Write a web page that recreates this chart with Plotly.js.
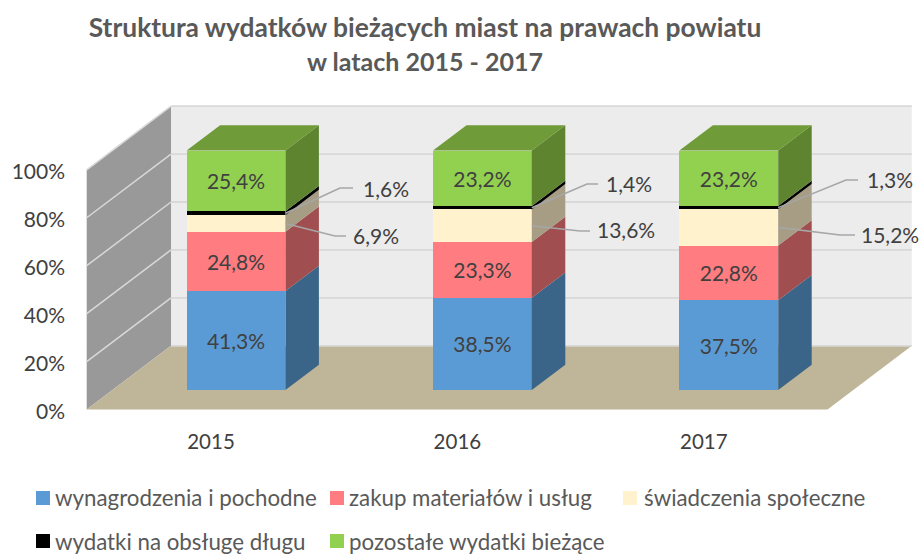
<!DOCTYPE html>
<html><head><meta charset="utf-8">
<script src="https://cdn.plot.ly/plotly-3.0.1.min.js"></script>
<style>html,body{margin:0;padding:0;background:#fff}</style></head>
<body><div id="chart" style="width:920px;height:554px"></div>
<script>
const years = ['2015','2016','2017'];
const seriesNames = ['wynagrodzenia i pochodne','zakup materiałów i usług','świadczenia społeczne','wydatki na obsługę długu','pozostałe wydatki bieżące'];
const wynagrodzenia = [41.3,38.5,37.5];
const zakup = [24.8,23.3,22.8];
const swiadczenia = [6.9,13.6,15.2];
const dlug = [1.6,1.4,1.3];
const pozostale = [25.4,23.2,23.2];
const valueTicks = [0,20,40,60,80,100];

const frontColors = ['#5B9BD5','#FF7C80','#FFF2CC','#000000','#92D050'];
const sideColors = ['#3A6488','#A04E50','#A69D84','#000000','#5E8430'];
const topColor = '#6F9B38';
const allSeries = [wynagrodzenia,zakup,swiadczenia,dlug,pozostale];
const FONT = 'Lato, Carlito, Calibri, sans-serif';

// pixel scale of the plot (full-window plot area)
const W=920,H=554, X0=236, XU=246.4, Y0=390, YU=2.395;
const xOf = p => (p-X0)/XU;
const vOf = p => (Y0-p)/YU;
const barW = 0.401;
const depthX = 33.5/XU, depthV = 25.3/YU;        // bar depth
const wallDX = 84.3/XU, wallDV = 63.7/YU;        // room depth
const floorL = xOf(86.7), floorR = xOf(827.5), floorV = vOf(409.5);
const wallH = 239.7/YU;
const Y2_ZERO = 411.3, Y2_UNIT = 239.5/100;

const x = years.map((_,i)=>i);
const traces = [];
const bases = allSeries.map((s,k)=>x.map(i=>allSeries.slice(0,k).reduce((a,b)=>a+b[i],0)));
const fmt = v => v.toFixed(1).replace('.',',')+'%';
const isOutside = k => k===2 || k===3;

allSeries.forEach((s,k)=>{
  const showInside = !(isOutside(k));
  traces.push({type:'bar',x:x,y:s,width:barW,name:seriesNames[k],xaxis:'x',yaxis:'y',
    marker:{color:frontColors[k],line:{width:0}},showlegend:false,hoverinfo:'skip',
    text:showInside?s.map(fmt):undefined,textposition:showInside?'inside':'none',insidetextanchor:'middle',
    textangle:0,constraintext:'none',insidetextfont:{family:FONT,size:21,color:'#404040'}});
  const sx=[],sy=[];
  x.forEach(i=>{
    const r=i+barW/2,b=bases[k][i],t=b+s[i];
    sx.push(r,r+depthX,r+depthX,r,r,null);
    sy.push(b,b+depthV,t+depthV,t,b,null);
  });
  traces.push({type:'scatter',mode:'lines',x:sx,y:sy,fill:'toself',fillcolor:sideColors[k],line:{width:0,color:sideColors[k]},showlegend:false,hoverinfo:'skip'});
});
{
  const tx=[],ty=[];
  x.forEach(i=>{
    const l=i-barW/2,r=i+barW/2,t=bases[4][i]+pozostale[i];
    tx.push(l,r,r+depthX,l+depthX,l,null);
    ty.push(t,t,t+depthV,t+depthV,t,null);
  });
  traces.push({type:'scatter',mode:'lines',x:tx,y:ty,fill:'toself',fillcolor:topColor,line:{width:0,color:topColor},showlegend:false,hoverinfo:'skip'});
}
traces.push({type:'scatter',mode:'markers',x:[0],y:[0],yaxis:'y2',marker:{opacity:0},showlegend:false,hoverinfo:'skip'});

const leaders = [
  [3,0,340,188,353,386,188.5],[2,0,335,236,346,376,235.5],
  [3,1,587,184,598,629,183.5],[2,1,580,231,590,626,229.5],
  [3,2,846,180,858,890,179.5],[2,2,840,235,855,890,234.5]
];
const annotations = [];
leaders.forEach(([k,i,ex,ey,endx,lx,ly])=>{
  const startX=i+barW/2, startV=bases[k][i]+allSeries[k][i]/2;
  traces.push({type:'scatter',mode:'lines',x:[startX,xOf(ex),xOf(endx)],y:[startV,vOf(ey),vOf(ey)],
    line:{color:'#A6A6A6',width:1.6},showlegend:false,hoverinfo:'skip'});
  annotations.push({xref:'x',yref:'y',x:xOf(lx),y:vOf(ly),text:fmt(allSeries[k][i]),showarrow:false,
    xanchor:'center',yanchor:'middle',font:{family:FONT,size:21,color:'#404040'}});
});

const poly = pts => 'M'+pts.map(p=>p[0]+','+p[1]).join('L')+'Z';
const dataShape = (pts,fill)=>({type:'path',xref:'x',yref:'y',layer:'below',path:poly(pts),fillcolor:fill,line:{width:0}});
const shapes = [
  dataShape([[floorL+wallDX,floorV+wallDV],[floorR+wallDX,floorV+wallDV],[floorR+wallDX,floorV+wallDV+wallH],[floorL+wallDX,floorV+wallDV+wallH]],'#ECECEC'),
  dataShape([[floorL,floorV],[floorL+wallDX,floorV+wallDV],[floorL+wallDX,floorV+wallDV+wallH],[floorL,floorV+wallH]],'#999999'),
  dataShape([[floorL,floorV],[floorR,floorV],[floorR+wallDX,floorV+wallDV],[floorL+wallDX,floorV+wallDV]],'#BFB598')
];
const line=(a,b,c,w)=>({type:'line',xref:'x',yref:'y',layer:'below',x0:a[0],y0:a[1],x1:b[0],y1:b[1],line:{color:c,width:w}});
valueTicks.forEach(t=>{
  const v=floorV+t/100*wallH;
  if(t>0) shapes.push(line([floorL,v],[floorL+wallDX,v+wallDV],'#D9D9D9',1.5));
  shapes.push(line([floorL+wallDX,v+wallDV],[floorR+wallDX,v+wallDV],'#D9D9D9',1.8));
});

const legendPos = [[36,498],[330,498],[623,498],[36,541],[330,541]];
seriesNames.forEach((n,k)=>{
  const [px,py]=legendPos[k];
  shapes.push({type:'rect',xref:'paper',yref:'paper',x0:px/W,x1:(px+14)/W,y0:1-(py+7)/H,y1:1-(py-7)/H,fillcolor:frontColors[k],line:{width:0},layer:'above'});
  annotations.push({xref:'paper',yref:'paper',x:(px+17+(k===2?2:0))/W,y:1-(py-(k<3?1:0))/H,text:n,showarrow:false,xanchor:'left',yanchor:'middle',font:{family:FONT,size:22.3,color:'#595959'}});
});

const layout = {
  width:W,height:H,margin:{l:0,r:0,t:0,b:0,pad:0},paper_bgcolor:'#fff',plot_bgcolor:'rgba(0,0,0,0)',
  barmode:'stack',showlegend:false,hovermode:false,
  title:{text:'Struktura wydatków bieżących miast na prawach powiatu<br><span style="font-size:25px">w latach 2015 - 2017</span>',font:{family:FONT,size:26.4,color:'#595959',weight:700},x:425/W,xanchor:'center',y:1-37/H,yanchor:'top'},
  xaxis:{range:[xOf(0),xOf(W)],tickmode:'array',tickvals:x.map(i=>i-25/XU),ticktext:years,anchor:'free',position:1-427/H,showgrid:false,zeroline:false,showline:false,ticks:'',tickfont:{family:FONT,size:20.5,color:'#404040'},automargin:false},
  yaxis:{range:[vOf(H),vOf(0)],visible:false,fixedrange:true},
  yaxis2:{overlaying:'y',anchor:'free',position:65/W,side:'left',range:[(Y2_ZERO-H)/Y2_UNIT,Y2_ZERO/Y2_UNIT],tickmode:'array',tickvals:valueTicks,ticktext:valueTicks.map(v=>v+'%'),showgrid:false,zeroline:false,showline:false,ticks:'',tickfont:{family:FONT,size:21,color:'#404040'},automargin:false},
  shapes:shapes,annotations:annotations
};
Plotly.newPlot('chart',traces,layout,{displayModeBar:false,staticPlot:true});
</script></body></html>
